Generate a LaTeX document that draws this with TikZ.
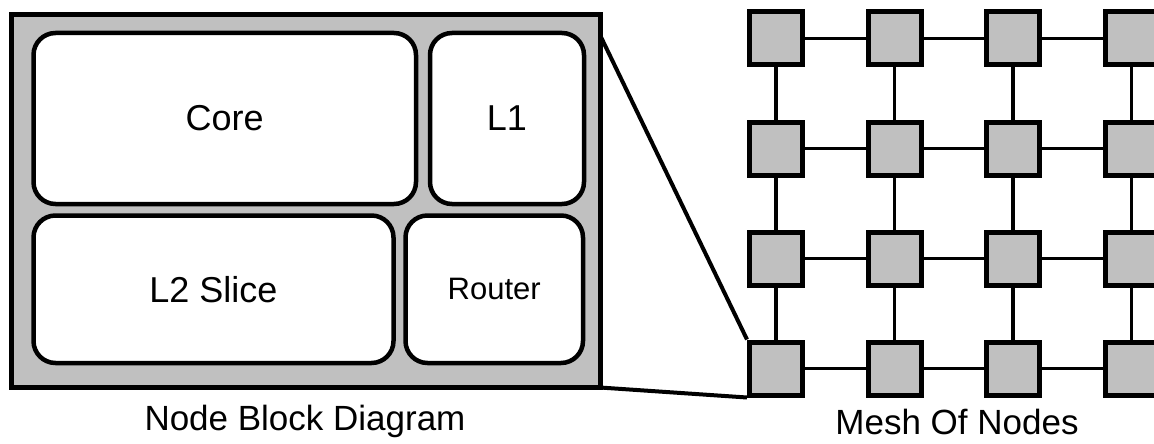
\documentclass[tikz,border=0pt]{standalone}
\usepackage{fontspec}
\setmainfont{Liberation Sans}
\usepackage{xcolor}
\definecolor{silver}{HTML}{C0C0C0}

\begin{document}
\begin{tikzpicture}[x=1pt,y=-1pt,
        unit/.style={draw,line width=4.5pt,rounded corners=22pt,fill=white,inner sep=0pt,
            font=\fontsize{36}{40}\selectfont},
        tile/.style={draw,line width=5pt,fill=silver,minimum size=53pt,inner sep=0pt},
        link/.style={line width=3.5pt},
        caption/.style={anchor=base,font=\fontsize{35}{40}\selectfont}]
    \clip (0,0) rectangle (1154,444);
    % one node of the chip
    \node[draw,line width=5pt,fill=silver,minimum width=589pt,minimum height=372.5pt,
        inner sep=0pt,outer sep=0pt] (block) at (305.5,201.25) {};
    \node[unit,minimum width=382.5pt,minimum height=171pt] (core) at (224.75,118.5) {Core};
    \node[unit,minimum width=154pt,minimum height=171pt] (l1) at (507,118.5) {L1};
    \node[unit,minimum width=360pt,minimum height=147.5pt] (l2) at (213.5,289.25) {L2 Slice};
    \node[unit,minimum width=177.5pt,minimum height=147.5pt,
        font=\fontsize{31}{36}\selectfont] (router) at (494.25,289.25) {Router};
    \node[caption] (blocklabel) at (305,430) {Node Block Diagram};

    % 4x4 mesh
    \foreach \r in {1,...,4}
        \foreach \c in {1,...,4}
            \node[tile] (m-\r-\c) at ({776+118.5*(\c-1)},{38.5+110*(\r-1)}) {};
    \foreach \r in {1,...,4}
        \foreach \c/\n in {1/2,2/3,3/4} {
            \draw[link] (m-\r-\c) -- (m-\r-\n);
            \draw[link] (m-\c-\r) -- (m-\n-\r);
        }
    \node[caption] (meshlabel) at (957,434) {Mesh Of Nodes};

    % zoom lines
    \coordinate (tap) at (600,35);
    \draw[line width=4pt] (tap) -- (m-4-1.north west);
    \draw[line width=4pt] (block.south east) -- (m-4-1.south west);
\end{tikzpicture}
\end{document}
